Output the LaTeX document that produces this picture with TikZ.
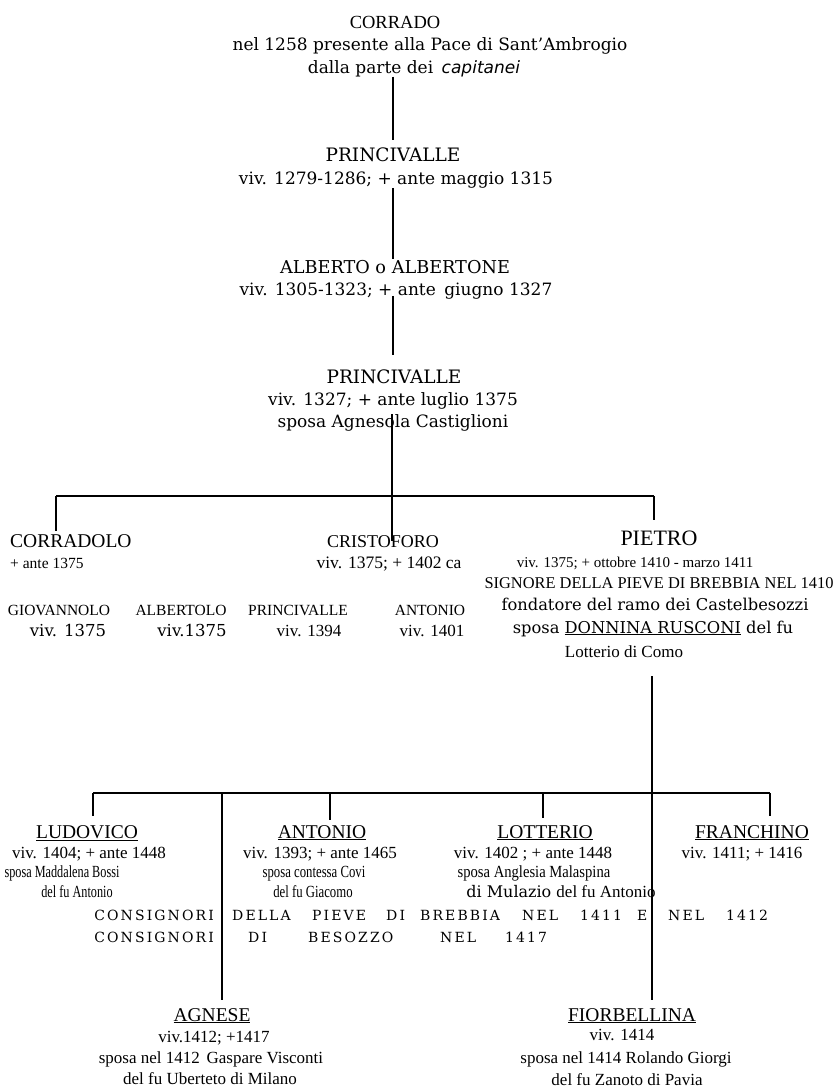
\documentclass[tikz,border=0pt]{standalone}
\usepackage{fontspec}
\setmainfont{DejaVu Serif}
\newfontfamily\nf{Liberation Serif}
\newfontfamily\ls[LetterSpace=15]{DejaVu Serif}
\newfontfamily\sansit{DejaVu Sans}
\begin{document}
\begin{tikzpicture}[x=1pt,y=-1pt,
  L/.style={anchor=base,inner sep=0pt,font=\fontsize{17}{20}\selectfont},
  LN/.style={anchor=base,inner sep=0pt,font=\fontsize{18.5}{22}\selectfont},
  N/.style={anchor=base,inner sep=0pt,font=\nf\fontsize{17}{20}\selectfont},
  NN/.style={anchor=base,inner sep=0pt,font=\nf\fontsize{19.5}{22}\selectfont},
  SP/.style={anchor=base west,inner sep=0pt,font=\ls\fontsize{14}{17}\selectfont},
  ln/.style={line width=1.2pt}]
\useasboundingbox[fill=white] (0,0) rectangle (838,1092);
% generation 0-3
\node[N,font=\nf\fontsize{18.5}{22}\selectfont] (c0) at (395,28) {CORRADO};
\node[L] (c0a) at (430,50) {nel 1258 presente alla Pace di Sant'Ambrogio};
\node[L] (c0b) at (414,73) {dalla parte dei\hspace{0.5em}{\sansit\itshape capitanei}};
\node[LN] (p1) at (393,161) {PRINCIVALLE};
\node[L] (p1a) at (396,184) {viv. 1279-1286; + ante maggio 1315};
\node[L,font=\fontsize{17.7}{21}\selectfont] (a2) at (395,273) {ALBERTO o ALBERTONE};
\node[L] (a2a) at (396,295) {viv. 1305-1323; + ante\hspace{0.5em}giugno 1327};
\node[LN] (p3) at (394,383) {PRINCIVALLE};
\node[L] (p3a) at (393,405) {viv. 1327; + ante luglio 1375};
\node[L] (p3b) at (393,427) {sposa Agnesola Castiglioni};
% generation 4
\node[NN,anchor=base west] (c1) at (10,547) {CORRADOLO};
\node[N,anchor=base west,font=\nf\fontsize{15.5}{18}\selectfont] (c1a) at (10,568) {+ ante 1375};
\node[NN,font=\nf\fontsize{18}{21}\selectfont] (cr) at (383,547) {CRISTOFORO};
\node[N,font=\nf\fontsize{17.5}{20}\selectfont] (cra) at (389,568) {viv. 1375; + 1402 ca};
\node[NN,font=\nf\fontsize{22}{26}\selectfont] (pt) at (659,545) {PIETRO};
\node[N,font=\nf\fontsize{15}{18}\selectfont] (pta) at (635,567) {viv. 1375; + ottobre 1410 - marzo 1411};
\node[N,font=\nf\fontsize{16.4}{19}\selectfont] (ptb) at (659,588) {SIGNORE DELLA PIEVE DI BREBBIA NEL 1410};
\node[L,font=\fontsize{16.3}{19}\selectfont] (ptc) at (655,610) {fondatore del ramo dei Castelbesozzi};
\node[L,font=\fontsize{16.3}{19}\selectfont] (ptd) at (653,633) {sposa \underline{DONNINA RUSCONI} del fu};
\node[N] (pte) at (624,657) {Lotterio di Como};
% children of Cristoforo
\node[N,font=\nf\fontsize{15.5}{18}\selectfont] (g1) at (59,615) {GIOVANNOLO};
\node[L,font=\fontsize{16.5}{19}\selectfont] (g1a) at (68,636) {viv. 1375};
\node[N,font=\nf\fontsize{15.5}{18}\selectfont] (g2) at (181,615) {ALBERTOLO};
\node[L,font=\fontsize{16.5}{19}\selectfont] (g2a) at (192,636) {viv.1375};
\node[N,font=\nf\fontsize{15.5}{18}\selectfont] (g3) at (298,615) {PRINCIVALLE};
\node[N] (g3a) at (309,636) {viv. 1394};
\node[N,font=\nf\fontsize{15.5}{18}\selectfont] (g4) at (430,615) {ANTONIO};
\node[N] (g4a) at (432,636) {viv. 1401};
% generation 5
\node[NN] (lu) at (87,838) {\underline{LUDOVICO}};
\node[NN] (an) at (322,838) {\underline{ANTONIO}};
\node[NN] (lo) at (545,838) {\underline{LOTTERIO}};
\node[NN] (fr) at (752,838) {\underline{FRANCHINO}};
\node[N] (lua) at (89,858) {viv. 1404; + ante 1448};
\node[N] (ana) at (320,858) {viv. 1393; + ante 1465};
\node[N] (loa) at (533,858) {viv. 1402 ; + ante 1448};
\node[N] (fra) at (742,858) {viv. 1411; + 1416};
\node[N] (lub) at (62,877) {\scalebox{0.72}[1]{sposa Maddalena Bossi}};
\node[N] (anb) at (314,877) {\scalebox{0.75}[1]{sposa contessa Covi}};
\node[N] (lob) at (534,877) {\scalebox{0.86}[1]{sposa Anglesia Malaspina}};
\node[N] (luc) at (77,897) {\scalebox{0.72}[1]{del fu Antonio}};
\node[N] (anc) at (313,897) {\scalebox{0.75}[1]{del fu Giacomo}};
\node[N] (loc) at (561,897) {{\rmfamily\fontsize{16}{19}\selectfont di Mulazio }del fu Antonio};
% consignori rows
\node[SP,anchor=base east] (r1a) at (214,920) {CONSIGNORI};
\node[SP] (r1b) at (232,920) {DELLA};
\node[SP] (r1c) at (312,920) {PIEVE};
\node[SP] (r1d) at (386,920) {DI};
\node[SP] (r1e) at (420,920) {BREBBIA};
\node[SP] (r1f) at (522,920) {NEL};
\node[SP] (r1g) at (580,920) {1411};
\node[SP] (r1h) at (637,920) {E};
\node[SP] (r1i) at (668,920) {NEL};
\node[SP] (r1j) at (726,920) {1412};
\node[SP,anchor=base east] (r2a) at (214,942) {CONSIGNORI};
\node[SP] (r2b) at (248,942) {DI};
\node[SP] (r2c) at (308,942) {BESOZZO};
\node[SP] (r2d) at (440,942) {NEL};
\node[SP] (r2e) at (505,942) {1417};
% generation 6
\node[NN] (ag) at (212,1021) {\underline{AGNESE}};
\node[N] (aga) at (214,1042) {viv.1412; +1417};
\node[N] (agb) at (211,1063) {sposa nel 1412\hspace{0.4em}Gaspare Visconti};
\node[N] (agc) at (210,1084) {del fu Uberteto di Milano};
\node[NN] (fb) at (632,1021) {\underline{FIORBELLINA}};
\node[N] (fba) at (622,1040) {viv. 1414};
\node[N] (fbb) at (626,1063) {sposa nel 1414 Rolando Giorgi};
\node[N] (fbc) at (627,1085) {del fu Zanoto di Pavia};
% connectors
\draw[ln] (c0b.south -| p1) -- ([yshift=7pt]p1.north);
\draw[ln] (p1a.south -| p1) -- ([yshift=1pt]a2.north -| p1);
\draw[ln] ([yshift=3pt]a2a.south -| p1) -- ([yshift=14pt]p3.north -| p1);
\coordinate (j1) at (392,496);
\coordinate (bl) at (56,496);
\coordinate (br) at (654,496);
\draw[ln] (p3b.north -| j1) -- (j1);
\draw[ln] (bl) -- (br);
\draw[ln] (bl) -- ([yshift=3pt]bl |- c1.north);
\draw[ln] (j1) -- ([yshift=-6pt]j1 |- cr.north);
\draw[ln] (br) -- ([yshift=10pt]br |- pt.north);
\coordinate (j2) at (652,793);
\coordinate (b2l) at (93,793);
\coordinate (b2r) at (770,793);
\coordinate (d2) at (330,793);
\coordinate (d3) at (543,793);
\coordinate (d5) at (222,793);
\draw[ln] ([yshift=-19pt]pte.south -| j2) -- ([yshift=8pt]fb.north -| j2);
\draw[ln] (b2l) -- (b2r);
\draw[ln] (b2l) -- ([yshift=9pt]b2l |- lu.north);
\draw[ln] (d2) -- ([yshift=5pt]d2 |- an.north);
\draw[ln] (d3) -- ([yshift=7pt]d3 |- lo.north);
\draw[ln] (b2r) -- ([yshift=9pt]b2r |- fr.north);
\draw[ln] (d5) -- ([yshift=8pt]d5 |- ag.north);
\end{tikzpicture}
\end{document}
